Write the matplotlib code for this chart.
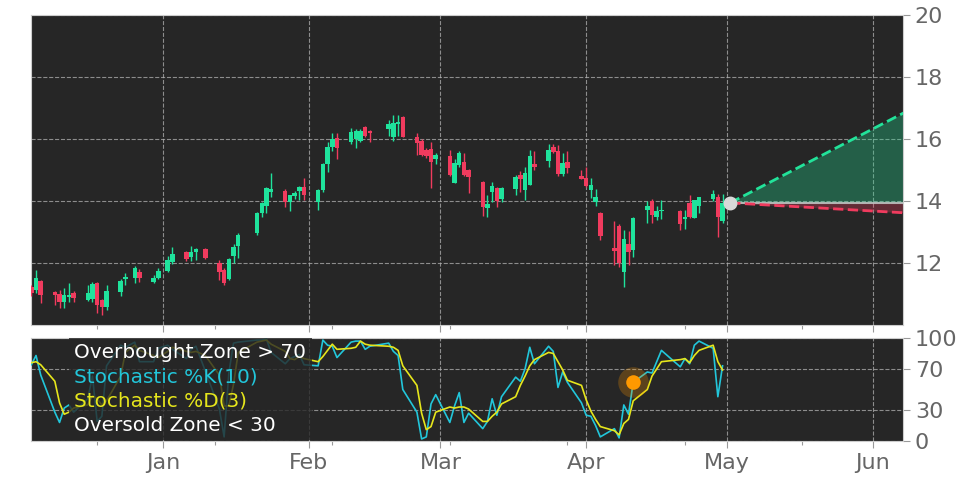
import matplotlib
matplotlib.use('Agg')
import matplotlib.pyplot as plt
import matplotlib.dates as mdates
from matplotlib.lines import Line2D
import numpy as np
import pandas as pd

# ---------------- data ----------------
holidays = ['2024-12-25', '2025-01-01', '2025-01-09', '2025-01-20', '2025-02-17', '2025-04-18']
dates = pd.bdate_range('2024-12-04', '2025-04-30', freq='C', holidays=holidays)

opens = [11.24, 11.13, 11.42, 11.07, 11.00, 10.73, 10.91, 11.04, 10.81, 10.84, 11.34, 10.81, 10.59, 11.07, 11.48, 11.53, 11.72, 11.40, 11.53,
         11.74, 12.04, 12.37, 12.20, 12.37, 12.45, 12.01, 11.77, 11.48, 12.24, 12.56, 12.96, 13.60, 13.84, 14.30, 14.33, 13.98, 14.16, 14.33, 14.46,
         13.98, 14.35, 15.19, 15.75, 16.02, 15.91, 15.99, 15.95, 16.38, 16.26, 16.31, 16.07, 16.50, 16.72, 16.05, 15.94, 15.65, 15.68, 15.35,
         15.45, 14.59, 15.16, 15.27, 15.00, 14.62, 13.76, 14.30, 14.41, 14.06, 14.39, 14.84, 14.35, 14.52, 15.18, 15.30, 15.73, 15.62, 14.86, 15.27, 14.82,
         14.75, 14.35, 13.98, 13.62, 12.49, 13.19, 11.72, 12.60, 12.42, 13.71, 14.00, 13.47, 13.68, 13.68, 13.41, 13.94, 13.46, 13.84, 14.06, 14.14, 13.36]
highs = [11.30, 11.77, 11.45, 11.10, 11.12, 11.18, 11.34, 11.10, 11.30, 11.40, 11.40, 10.85, 11.30, 11.50, 11.69, 11.90, 11.82, 11.60, 11.85,
         12.23, 12.53, 12.40, 12.55, 12.50, 12.50, 12.10, 11.85, 12.15, 12.60, 12.97, 13.65, 13.98, 14.45, 14.89, 14.38, 14.19, 14.33, 14.48, 14.73,
         14.40, 15.22, 15.90, 16.18, 16.18, 16.35, 16.31, 16.31, 16.41, 16.28, 16.60, 16.77, 16.79, 16.75, 16.20, 16.00, 15.72, 15.91, 15.55,
         15.65, 15.35, 15.60, 15.54, 15.02, 14.65, 14.20, 14.62, 14.45, 14.45, 14.84, 14.98, 15.10, 15.66, 15.62, 15.85, 15.85, 15.80, 15.55, 15.60, 15.00,
         15.10, 14.75, 14.40, 13.65, 13.36, 13.25, 13.06, 13.03, 13.48, 14.00, 14.05, 13.85, 14.03, 13.71, 13.71, 14.20, 14.03, 14.14, 14.35, 14.24, 14.24]
lows = [10.95, 11.02, 10.70, 10.65, 10.54, 10.54, 10.75, 10.75, 10.78, 10.75, 10.38, 10.32, 10.50, 10.93, 11.30, 11.35, 11.40, 11.35, 11.50,
        11.70, 11.97, 12.05, 12.05, 12.10, 12.12, 11.45, 11.30, 11.45, 12.00, 12.15, 12.90, 13.50, 13.60, 14.14, 13.82, 13.69, 14.05, 14.03, 14.03,
        13.70, 14.30, 14.95, 15.60, 15.35, 15.85, 15.70, 15.90, 16.05, 15.91, 16.10, 15.95, 16.10, 16.05, 15.50, 15.45, 15.40, 14.41, 15.20,
        14.80, 14.59, 15.10, 14.80, 14.25, 13.52, 13.47, 13.98, 13.80, 13.98, 14.20, 14.30, 14.03, 14.52, 15.00, 15.10, 15.55, 14.82, 14.80, 14.90, 14.70,
        14.45, 14.10, 13.85, 12.74, 11.94, 11.86, 11.24, 11.93, 12.20, 13.30, 13.30, 13.40, 13.41, 13.08, 13.10, 13.45, 13.45, 13.60, 14.00, 12.83, 13.30]
closes = [11.02, 11.51, 10.97, 10.97, 10.73, 10.97, 10.97, 10.86, 11.04, 11.31, 10.65, 10.59, 11.11, 11.42, 11.56, 11.83, 11.53, 11.53, 11.74,
          12.10, 12.28, 12.12, 12.37, 12.45, 12.17, 11.72, 11.35, 12.12, 12.53, 12.90, 13.60, 13.93, 14.41, 14.38, 13.98, 14.19, 14.27, 14.44, 14.19,
          14.35, 15.18, 15.75, 15.99, 15.70, 16.24, 16.27, 16.27, 16.10, 16.18, 16.48, 16.53, 16.55, 16.07, 15.86, 15.48, 15.45, 15.27, 15.48,
          14.84, 15.22, 15.54, 14.84, 14.78, 13.82, 13.90, 14.48, 14.01, 14.41, 14.78, 14.70, 14.91, 15.46, 15.11, 15.65, 15.59, 14.86, 15.24, 15.07, 14.71,
          14.48, 14.52, 14.14, 12.87, 12.40, 11.99, 12.77, 12.37, 13.44, 13.84, 13.55, 13.68, 13.71, 13.26, 13.49, 13.47, 14.03, 14.14, 14.22, 13.49, 13.94]

stoch_k = [74, 83, 64, 28, 18, 32, 35, 28, 41, 63, 19, 24, 73, 93, 91, 96, 77, 77, 90,
           93, 89, 80, 89, 92, 68, 31, 4, 66, 95, 96, 98, 98, 99, 86, 75, 80, 82, 84, 74,
           73, 98, 93, 92, 81, 96, 97, 97, 89, 92, 95, 87, 83, 50, 28, 2, 4, 36, 45,
           18, 34, 47, 18, 27, 12, 19, 41, 25, 43, 62, 58, 70, 91, 75, 92, 87, 52, 67, 57, 37,
           25, 24, 15, 4, 12, 3, 35, 26, 57, 67, 66, 77, 88, 72, 80, 75, 93, 97, 90, 43, 73]
stoch_d = [76, 77, 74, 58, 37, 26, 28, 32, 35, 44, 41, 35, 39, 63, 86, 93, 88, 83, 81,
           87, 91, 87, 86, 87, 83, 64, 34, 34, 55, 86, 96, 97, 98, 94, 87, 80, 79, 82, 80,
           77, 82, 88, 94, 89, 90, 91, 97, 94, 93, 92, 91, 88, 73, 54, 27, 11, 14, 28,
           33, 32, 33, 33, 31, 19, 19, 24, 28, 36, 43, 54, 63, 73, 79, 86, 85, 77, 69, 59, 54,
           40, 29, 21, 14, 10, 6, 17, 21, 39, 50, 63, 70, 77, 79, 80, 76, 83, 88, 93, 77, 69]

signal_date = '2025-04-11'
signal_value = 57

proj_dates = ['2025-05-01 15:00', '2025-06-07 12:00']
proj_start = 13.94
proj_upper = [13.94, 16.84]
proj_lower = [13.94, 13.62]

legend_labels = ['Overbought Zone > 70', 'Stochastic %K(10)', 'Stochastic %D(3)', 'Oversold Zone < 30']

# ---------------- style ----------------
GREEN = '#1fe39c'
RED = '#f03b5e'
BG = '#262626'
CYAN = '#22c6da'
YELLOW = '#e6e61c'
TICKC = '#666666'

W, H = 972, 486
fig = plt.figure(figsize=(W / 100, H / 100), dpi=100)
fig.patch.set_facecolor('white')
ax = fig.add_axes([31 / W, 1 - 325 / H, (903 - 31) / W, (325 - 15) / H])
ax2 = fig.add_axes([31 / W, 1 - 441 / H, (903 - 31) / W, (441 - 338) / H], sharex=ax)

for a in (ax, ax2):
    a.set_facecolor(BG)
    a.yaxis.tick_right()
    a.tick_params(axis='both', which='major', labelsize=16, labelcolor=TICKC,
                  color='#999999', length=5, width=0.8)
    a.tick_params(axis='x', which='minor', color='#999999', length=3, width=0.8)
    a.grid(True, which='major', linestyle='--', color='#b0b0b0', linewidth=0.8, alpha=0.75)
    a.set_axisbelow(True)
    for s in a.spines.values():
        s.set_color('#cccccc')
        s.set_linewidth(0.8)

ax.tick_params(axis='x', which='both', labelbottom=False)

# candles
x = mdates.date2num(pd.to_datetime(dates))
o = np.array(opens); h = np.array(highs); l = np.array(lows); c = np.array(closes)
colors = np.where(c >= o, GREEN, RED)
ax.vlines(x, l, h, colors=colors, linewidth=1.0, zorder=3)
ax.bar(x, np.maximum(np.abs(c - o), 0.03), bottom=np.minimum(o, c), width=0.95,
       color=colors, linewidth=0, zorder=4)

# projection cone
px = mdates.date2num(pd.to_datetime(proj_dates))
ax.fill_between(px, [proj_start, proj_start], proj_upper, color='#22d890', alpha=0.32, linewidth=0, zorder=2)
ax.fill_between(px, [proj_start, proj_start], proj_lower, color=RED, alpha=0.3, linewidth=0, zorder=2)
ax.plot(px, [proj_start, proj_start], color='#d0d0d0', linewidth=1.5, alpha=0.8, zorder=3)
ax.plot(px, proj_upper, linestyle='--', color='#22e39a', linewidth=2, zorder=4)
ax.plot(px, proj_lower, linestyle='--', color=RED, linewidth=2, zorder=4)
ax.plot(px[0], proj_start, 'o', markersize=9, color='#d8d8d8', zorder=6)

ax.set_ylim(10, 20)
ax.set_yticks([12, 14, 16, 18, 20])

# stochastic
ax2.plot(x, stoch_k, color=CYAN, linewidth=1.2, zorder=3)
ax2.plot(x, stoch_d, color=YELLOW, linewidth=1.2, zorder=3)
sx = mdates.date2num(pd.Timestamp(signal_date))
ax2.plot(sx, signal_value, 'o', markersize=22, color='#ff9900', alpha=0.25, markeredgewidth=0, zorder=4)
ax2.plot(sx, signal_value, 'o', markersize=10.5, color='#ff9900', markeredgewidth=0, zorder=5)
ax2.set_ylim(0, 100)
ax2.set_yticks([0, 30, 70, 100])

handles = [Line2D([], [], color='none') for _ in legend_labels]
leg = ax2.legend(handles, legend_labels, loc='upper left', bbox_to_anchor=((69 - 31) / 872, 1.0),
                 handlelength=0, handletextpad=0, fontsize=14.4, labelspacing=0.26,
                 borderaxespad=0, borderpad=0.27, frameon=True, facecolor=BG,
                 edgecolor='none', framealpha=0.8, fancybox=False)
for t, col in zip(leg.get_texts(), ['white', CYAN, YELLOW, 'white']):
    t.set_color(col)

# x axis
ax2.xaxis.set_major_locator(mdates.MonthLocator())
ax2.xaxis.set_major_formatter(mdates.DateFormatter('%b'))
minor = mdates.date2num(pd.date_range('2024-11-23', periods=10, freq='25D'))
ax2.xaxis.set_minor_locator(matplotlib.ticker.FixedLocator(minor))
ax2.set_xlim(mdates.date2num(pd.Timestamp('2024-12-03 22:20')),
             mdates.date2num(pd.Timestamp('2025-06-07 09:00')))

fig.savefig('out.png', dpi=100)
